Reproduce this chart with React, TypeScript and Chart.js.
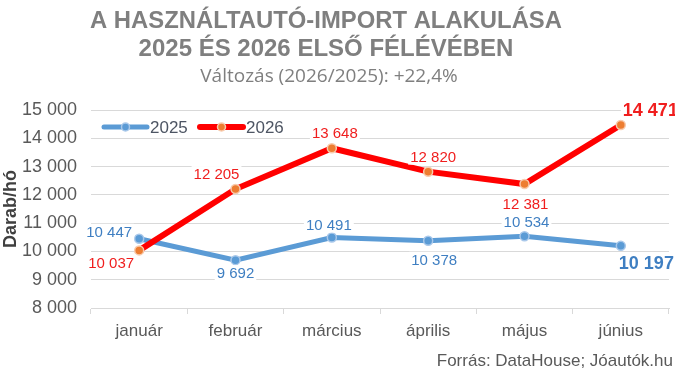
import React, { useEffect, useRef } from "react";
import { Chart, registerables } from "chart.js";

Chart.register(...registerables);

const categories = ["január", "február", "március", "április", "május", "június"];
const seriesNames = ["2025", "2026"];
const values2025 = [10447, 9692, 10491, 10378, 10534, 10197];
const values2026 = [10037, 12205, 13648, 12820, 12381, 14471];
const yMin = 8000;
const yMax = 15000;
const yStep = 1000;
const titleLines = ["A HASZNÁLTAUTÓ-IMPORT ALAKULÁSA", "2025 ÉS 2026 ELSŐ FÉLÉVÉBEN"];
const subtitleText = "Változás (2026/2025): +22,4%";
const sourceText = "Forrás: DataHouse; Jóautók.hu";
const yAxisTitle = "Darab/hó";

// label placement (style): [dx, dy, align, bold]
const labelPlace2025: [number, number, CanvasTextAlign, boolean][] = [
  [-30, -7, "center", false],
  [0, 13, "center", false],
  [-3, -13, "center", false],
  [6, 19, "center", false],
  [2, -14, "center", false],
  [-2, 17, "left", true],
];
const labelPlace2026: [number, number, CanvasTextAlign, boolean][] = [
  [-28, 12, "center", false],
  [-19, -15, "center", false],
  [3, -15, "center", false],
  [5, -15, "center", false],
  [1, 20, "center", false],
  [2, -15, "left", true],
];

const BLUE = "#5b9bd5";
const RED = "#ff0000";
const BLUE_TXT = "#3f7fc2";
const RED_TXT = "#f01e1e";
const FONT = '"Liberation Sans", Arial, sans-serif';

const fmt = (n: number) => String(n).replace(/\B(?=(\d{3})+(?!\d))/g, " ");

const headerPlugin = {
  id: "header",
  afterDraw(chart: any) {
    const ctx = chart.ctx as CanvasRenderingContext2D;
    ctx.save();
    ctx.textBaseline = "middle";
    ctx.textAlign = "center";
    ctx.fillStyle = "#7f7f7f";
    ctx.font = `bold 24px ${FONT}`;
    ctx.fillText(titleLines[0], 326, 21, 472);
    ctx.fillText(titleLines[1], 326, 49, 380);
    ctx.font = `19px "Open Sans", ${FONT}`;
    ctx.fillText(subtitleText, 329, 77, 267);
    ctx.textAlign = "right";
    ctx.fillStyle = "#595959";
    ctx.font = `17px ${FONT}`;
    ctx.fillText(sourceText, 673, 361, 242);

    // legend
    const items = [
      { x0: 104, x1: 147, color: BLUE, pf: BLUE, pb: "#a9c8ea", w: 5, label: seriesNames[0], tx: 150 },
      { x0: 200, x1: 243, color: RED, pf: "#ed7d31", pb: "#f8cbad", w: 6, label: seriesNames[1], tx: 246 },
    ];
    const ly = 127;
    for (const it of items) {
      ctx.beginPath();
      ctx.lineCap = "round";
      ctx.strokeStyle = it.color;
      ctx.lineWidth = it.w;
      ctx.moveTo(it.x0, ly);
      ctx.lineTo(it.x1, ly);
      ctx.stroke();
      ctx.beginPath();
      ctx.arc((it.x0 + it.x1) / 2, ly, 4, 0, Math.PI * 2);
      ctx.fillStyle = it.pf;
      ctx.fill();
      ctx.lineWidth = 1.5;
      ctx.strokeStyle = it.pb;
      ctx.stroke();
      ctx.fillStyle = "#4d5563";
      ctx.textAlign = "left";
      ctx.font = `17px ${FONT}`;
      ctx.fillText(it.label, it.tx, ly + 1);
    }
    ctx.restore();
  },
};

const labelsPlugin = {
  id: "valueLabels",
  afterDatasetsDraw(chart: any) {
    const ctx = chart.ctx as CanvasRenderingContext2D;
    ctx.save();
    ctx.textBaseline = "middle";
    chart.data.datasets.forEach((ds: any, di: number) => {
      const meta = chart.getDatasetMeta(di);
      const place = di === 0 ? labelPlace2025 : labelPlace2026;
      const color = di === 0 ? BLUE_TXT : RED_TXT;
      meta.data.forEach((pt: any, i: number) => {
        const [dx, dy, align, bold] = place[i];
        const text = fmt(ds.data[i]);
        ctx.font = bold ? `bold 18px ${FONT}` : `15px ${FONT}`;
        const w = ctx.measureText(text).width;
        const x = pt.x + dx;
        const y = pt.y + dy;
        const left = align === "left" ? x : x - w / 2;
        ctx.fillStyle = "#ffffff";
        ctx.fillRect(left - 2, y - 8, w + 4, 16);
        ctx.fillStyle = color;
        ctx.textAlign = align;
        ctx.fillText(text, x, y + 1);
      });
    });
    ctx.restore();
  },
};

export default function App() {
  const ref = useRef<HTMLCanvasElement | null>(null);
  useEffect(() => {
    if (!ref.current) return;
    const chart = new Chart(ref.current, {
      type: "line",
      data: {
        labels: categories,
        datasets: [
          {
            label: seriesNames[0],
            data: values2025,
            borderColor: BLUE,
            borderWidth: 5,
            pointRadius: 4.5,
            pointBackgroundColor: BLUE,
            pointBorderColor: "#a9c8ea",
            pointBorderWidth: 1.5,
            tension: 0,
            order: 1,
          },
          {
            label: seriesNames[1],
            data: values2026,
            borderColor: RED,
            borderWidth: 6,
            pointRadius: 4.5,
            pointBackgroundColor: "#ed7d31",
            pointBorderColor: "#f8cbad",
            pointBorderWidth: 1.5,
            tension: 0,
            order: 0,
          },
        ],
      },
      options: {
        responsive: false,
        animation: false,
        layout: { padding: { top: 110, right: 2, left: 0, bottom: 0 } },
        plugins: {
          legend: { display: false },
          title: { display: false },
          tooltip: { enabled: false },
        },
        scales: {
          x: {
            offset: true,
            grid: {
              offset: true,
              drawOnChartArea: false,
              drawTicks: true,
              tickLength: 6,
              color: "#d9d9d9",
            },
            border: { display: true, color: "#d9d9d9", width: 1 },
            ticks: {
              color: "#595959",
              font: { family: FONT, size: 17 },
              padding: 7,
              maxRotation: 0,
            },
            afterFit(scale: any) {
              scale.height = 72;
            },
          },
          y: {
            min: yMin,
            max: yMax,
            ticks: {
              stepSize: yStep,
              color: "#595959",
              font: { family: FONT, size: 18 },
              padding: 14,
              callback: (v: any) => fmt(Number(v)),
            },
            grid: { color: "#d9d9d9", drawTicks: false, lineWidth: 1 },
            border: { display: false },
            title: {
              display: true,
              text: yAxisTitle,
              color: "#404040",
              font: { family: FONT, size: 18, weight: "bold" },
              padding: { top: 0, bottom: 0 },
            },
            afterFit(scale: any) {
              scale.width = 91;
            },
          },
        },
      },
      plugins: [labelsPlugin, headerPlugin],
    } as any);
    return () => chart.destroy();
  }, []);
  return (
    <div style={{ position: "absolute", left: 0, top: 0, width: 675, height: 380, background: "#fff" }}>
      <canvas ref={ref} width={675} height={380} style={{ width: 675, height: 380, display: "block" }} />
    </div>
  );
}
